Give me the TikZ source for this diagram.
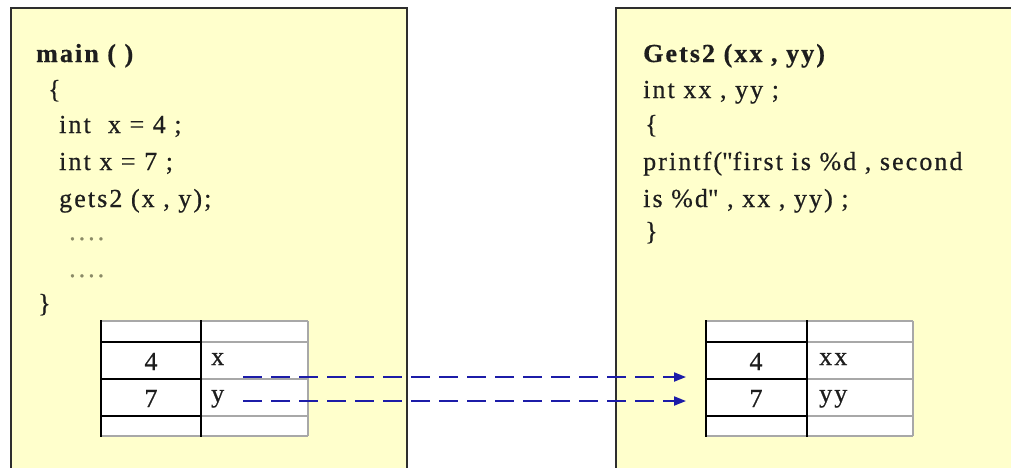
\documentclass[tikz,border=0pt]{standalone}
\usepackage{fontspec}
\setmainfont{Liberation Serif}[LetterSpace=8, FakeBold=0.6]
\newfontfamily\rawserif{Liberation Serif}[LetterSpace=8, FakeBold=0.6]
\usetikzlibrary{arrows.meta,calc}
\definecolor{paper}{HTML}{FFFFCC}
\definecolor{ink}{HTML}{1E1E1E}
\definecolor{frame}{HTML}{2E2E2E}
\definecolor{dots}{HTML}{8A8A66}
\definecolor{grid}{HTML}{A8A8A8}
\definecolor{flowblue}{HTML}{1C1CA8}
% straight double quote, without the TeX quote mapping
\newcommand{\dq}{{\rawserif"}}
\tikzset{
  panel/.style={draw=frame, line width=1.5pt, fill=paper},
  codeline/.style={anchor=base west, inner sep=0pt, text=ink},
  valcell/.style={anchor=base, inner sep=0pt, text=ink},
  varcell/.style={anchor=base west, inner sep=0pt, text=ink},
  thickrule/.style={draw=black, line width=2pt},
  thinrule/.style={draw=grid, line width=1.3pt},
  flow/.style={draw=flowblue, line width=2pt, dash pattern=on 19pt off 9pt,
    -{Triangle[length=12pt,width=9pt,fill=flowblue]}, shorten >=0pt},
}
% stack frame table: left column values, right column names
\newcommand{\frametable}[3]{%
  % #1 = left x, #2 = middle x, #3 = right x
  \fill[white] (#1,321) rectangle (#3,436);
  \foreach \yy in {321,342,379,416,436} \draw[thinrule] (#2,\yy) -- (#3,\yy);
  \draw[thinrule] (#3,321) -- (#3,436);
  \draw[thinrule] (#1,321) -- (#2,321);
  \draw[thinrule] (#1,436) -- (#2,436);
  \foreach \yy in {342,379,416} \draw[thickrule] (#1,\yy) -- (#2,\yy);
  \draw[thickrule] (#1,320) -- (#1,437);
  \draw[thickrule] (#2,320) -- (#2,437);
}
\begin{document}
\begin{tikzpicture}[x=1pt, y=-1pt, font=\fontsize{26}{30}\selectfont]
\useasboundingbox (0,0) rectangle (1011,467);
\clip (0,0) rectangle (1011,467);
\fill[white] (0,0) rectangle (1011,467);

% the two function panels
\draw[panel] (11,8) rectangle (407,480);
\draw[panel] (616,8) rectangle (1030,480);

% main()
\node[codeline] (m1) at (36,62)  {\bfseries main ( )};
\node[codeline] (m2) at (48,98)  {\{};
\node[codeline] (m3) at (59,133) {int \ x = 4 ;};
\node[codeline] (m4) at (59,170) {int x = 7 ;};
\node[codeline] (m5) at (59,207) {gets2 (x , y);};
\node[codeline, text=dots] (m6) at (69,240) {.\kern3pt.\kern3pt.\kern3pt.};
\node[codeline, text=dots] (m7) at (69,277) {.\kern3pt.\kern3pt.\kern3pt.};
\node[codeline] (m8) at (38,312) {\}};

% Gets2()
\node[codeline] (g1) at (643,62)  {\bfseries Gets2 (xx , yy)};
\node[codeline] (g2) at (643,98)  {int xx , yy ;};
\node[codeline] (g3) at (645,133) {\{};
\node[codeline] (g4) at (643,170) {printf(\dq first is \%d , second};
\node[codeline] (g5) at (643,207) {is \%d\dq{} , xx , yy) ;};
\node[codeline] (g6) at (645,240) {\}};

% stack frames
\frametable{101}{201}{308}
\frametable{706}{807}{913}

\node[valcell] (lv4) at (151,370) {4};
\node[valcell] (lv7) at (151,407) {7};
\node[varcell] (lx)  at (211,365) {x};
\node[varcell] (ly)  at (211,402) {y};

\node[valcell] (rv4) at (756,370) {4};
\node[valcell] (rv7) at (756,407) {7};
\node[varcell] (rxx) at (819,365) {xx};
\node[varcell] (ryy) at (819,402) {yy};

% argument copies
\coordinate (xsrc) at ($(lx.base west)+(32,12)$);
\coordinate (ysrc) at ($(ly.base west)+(32,-1)$);
\coordinate (xdst) at ($(rv4.base)+(-70,7)$);
\coordinate (ydst) at ($(rv7.base)+(-70,-6)$);
\draw[flow] (xsrc) -- (xdst);
\draw[flow] (ysrc) -- (ydst);
\end{tikzpicture}
\end{document}
